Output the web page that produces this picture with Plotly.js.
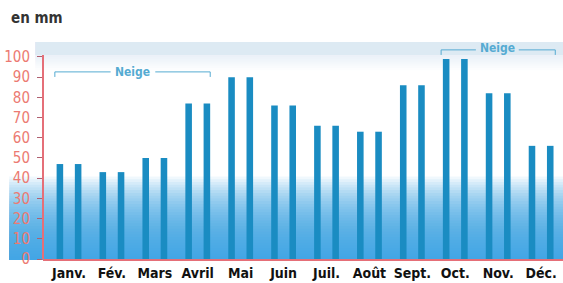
<!DOCTYPE html>
<html>
<head>
<meta charset="utf-8">
<script src="https://cdn.plot.ly/plotly-3.0.1.min.js"></script>
<style>html,body{margin:0;padding:0;background:#fff;}#chart{width:563px;height:283px;}</style>
</head>
<body>
<div id="chart"></div>
<script>
// Data
const months = ["Janv.", "Fév.", "Mars", "Avril", "Mai", "Juin", "Juil.", "Août", "Sept.", "Oct.", "Nov.", "Déc."];
const precipitation = [47, 43, 50, 77, 90, 76, 66, 63, 86, 99, 82, 56];
const yTicks = [0, 10, 20, 30, 40, 50, 60, 70, 80, 90, 100];
const snowLabel = "Neige";

const barColor = '#1a8cc2';
const snowColor = '#55abd2';
const axisRed = '#e56f78';

const traces = [
  {type: 'bar', x: months, y: precipitation, marker: {color: barColor, line: {width: 0}}, hoverinfo: 'skip', showlegend: false},
  {type: 'bar', x: months, y: precipitation, marker: {color: barColor, line: {width: 0}}, hoverinfo: 'skip', showlegend: false}
];

// background gradient: overlapping translucent rects anchored at the bottom (no seams)
const shapes = [];
const NG = 30, gradTop = 0.38;
for (let i = 0; i < NG; i++) {
  shapes.push({type: 'rect', xref: 'paper', yref: 'paper', x0: -0.065, x1: 1, y0: -0.005, y1: gradTop * (i + 1) / NG,
    fillcolor: '#3a9ce0', opacity: 0.075, line: {width: 0}, layer: 'below'});
}
// top pale band, anchored at the top
for (let i = 0; i < 8; i++) {
  shapes.push({type: 'rect', xref: 'paper', yref: 'paper', x0: -0.015, x1: 1, y0: 1 - 0.06 - i * 0.01, y1: 1,
    fillcolor: '#cfe5f5', opacity: i === 0 ? 0.55 : 0.07, line: {width: 0}, layer: 'below'});
}
// y axis line (0 to 100)
shapes.push({type: 'line', xref: 'paper', yref: 'y', x0: 0, x1: 0, y0: 0, y1: 101, line: {color: axisRed, width: 2}});

// Neige brackets
function bracket(xa, xb, xt, y, gap) {
  shapes.push({type: 'line', xref: 'x', yref: 'y', x0: xa, x1: xt - gap, y0: y, y1: y, line: {color: snowColor, width: 1}});
  shapes.push({type: 'line', xref: 'x', yref: 'y', x0: xt + gap, x1: xb, y0: y, y1: y, line: {color: snowColor, width: 1}});
  shapes.push({type: 'line', xref: 'x', yref: 'y', x0: xa, x1: xa, y0: y, y1: y - 2.5, line: {color: snowColor, width: 1}});
  shapes.push({type: 'line', xref: 'x', yref: 'y', x0: xb, x1: xb, y0: y, y1: y - 2.5, line: {color: snowColor, width: 1}});
}
bracket(-0.33, 3.29, 1.49, 92.6, 0.52);
bracket(8.67, 11.33, 9.98, 103.5, 0.5);

const plotH = 283 - 42 - 24, plotW = 563 - 43;
const annotations = [
  {x: 1.49, y: 92.8, xref: 'x', yref: 'y', text: '<b>' + snowLabel + '</b>', showarrow: false, font: {family: 'DejaVu Sans Condensed, DejaVu Sans', size: 12, color: snowColor}},
  {x: 9.98, y: 104.3, xref: 'x', yref: 'y', text: '<b>' + snowLabel + '</b>', showarrow: false, font: {family: 'DejaVu Sans Condensed, DejaVu Sans', size: 12, color: snowColor}},
  {xref: 'paper', yref: 'paper', x: (9 - 43) / plotW, y: (283 - 24 - 18) / plotH,
    xanchor: 'left', yanchor: 'middle', showarrow: false, text: '<b>en mm</b>',
    font: {family: 'DejaVu Sans Condensed, DejaVu Sans', size: 15, color: '#333'}}
];

const layout = {
  width: 563, height: 283,
  margin: {l: 43, r: 0, t: 42, b: 24},
  paper_bgcolor: '#ffffff', plot_bgcolor: 'rgba(0,0,0,0)',
  barmode: 'group', bargap: 0.15, bargroupgap: 0.64,
  showlegend: false,
  xaxis: {type: 'category', range: [-0.606, 11.51], showgrid: false, zeroline: false,
    showline: true, linecolor: axisRed, linewidth: 2, ticks: '',
    tickfont: {family: 'DejaVu Sans Condensed, DejaVu Sans', size: 14, color: '#111', weight: 'bold'}},
  yaxis: {range: [0, 107.4], tickvals: yTicks, showgrid: false, zeroline: false, showline: false,
    ticks: 'outside', ticklen: 5, tickcolor: '#b06070', tickwidth: 1, ticklabelstandoff: 4,
    tickfont: {family: 'DejaVu Sans Condensed, DejaVu Sans', size: 15, color: '#ec7a72'}},
  shapes: shapes,
  annotations: annotations
};

Plotly.newPlot('chart', traces, layout, {staticPlot: true, displayModeBar: false});
</script>
</body>
</html>
